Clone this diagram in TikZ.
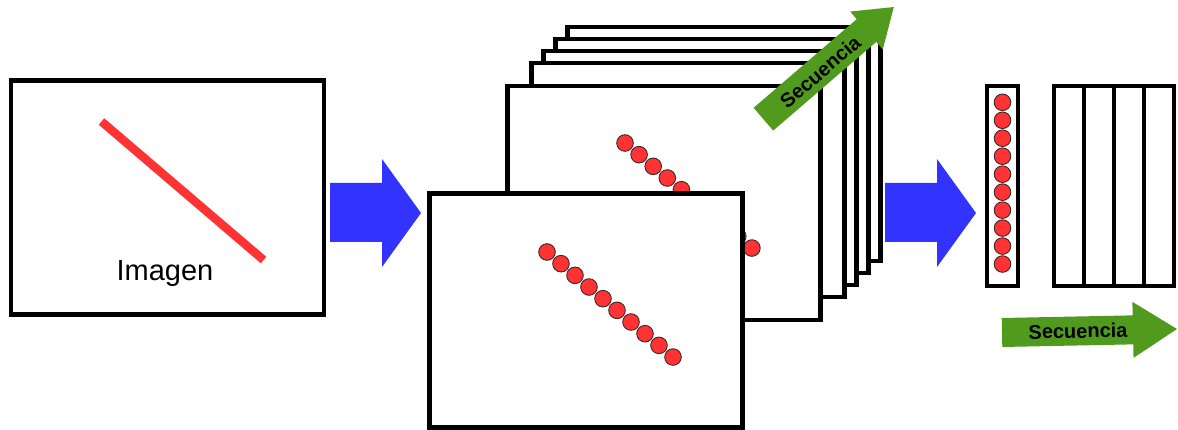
\documentclass[tikz,border=0pt]{standalone}
\usepackage{fontspec}
\setmainfont{Liberation Sans}
\definecolor{rojo}{RGB}{255,51,51}
\definecolor{azul}{RGB}{51,51,255}
\definecolor{verde}{RGB}{80,155,30}
\definecolor{borde}{RGB}{60,40,40}
\begin{document}
\begin{tikzpicture}[x=1pt,y=-1pt,
  frame/.style={draw=black,fill=white,line width=4.5pt,inner sep=0pt,outer sep=0pt,
    minimum width=313pt,minimum height=234pt},
  dot/.style={draw=borde,fill=rojo,line width=0.9pt},
  bluearrow/.style={fill=azul},
  greenarrow/.style={fill=verde},
  seqtext/.style={font=\bfseries\fontsize{20}{20}\selectfont,text=black,inner sep=0pt}]
\useasboundingbox (0,0) rectangle (1178,430);

% left image
\node[frame] (img) at (167.5,197.5) {};
\draw[rojo,line width=8.5pt] (101.5,121.5) -- (263.5,260);
\node[anchor=base,font=\fontsize{29}{29}\selectfont,inner sep=0pt] (imglabel) at (165,281) {Imagen};

% blue arrow 1
\fill[bluearrow] (330,183) -- (382,183) -- (382,159) -- (421,213) -- (382,267) -- (382,242) -- (330,242) -- cycle;

% stacked frames
\node[frame] (f5) at (724,144) {};
\node[frame] (f4) at (712,156) {};
\node[frame] (f3) at (700,168) {};
\node[frame] (f2) at (688,180) {};
\node[frame] (f1) at (664,203) {};
\foreach \i in {0,...,9}
  \draw[dot] ({625+14.1*\i},{143+11.67*\i}) circle[radius=8.3pt];
\node[frame] (f0) at (586,310.5) {};
\foreach \i in {0,...,9}
  \draw[dot] ({547+14*\i},{252+11.67*\i}) circle[radius=8.3pt];

% green arrow on stack
\begin{scope}[shift={(763.4,119.2)},rotate=40.7]
  \fill[greenarrow] (0,-15) -- (136,-15) -- (136,-25) -- (172,0) -- (136,25) -- (136,15) -- (0,15) -- cycle;
  \node[seqtext,rotate=40.7] (seq1) at (74,1) {Secuencia};
\end{scope}

% blue arrow 2
\fill[bluearrow] (885,183) -- (937,183) -- (937,159) -- (976,213) -- (937,267) -- (937,242) -- (885,242) -- cycle;

% column vector
\node[draw=black,fill=white,line width=4.5pt,inner sep=0pt,minimum width=31pt,minimum height=200pt] (col) at (1002.5,186) {};
\foreach \i in {0,...,9}
  \draw[dot] (1002.5,{102.3+17.97*\i}) circle[radius=8.3pt];

% sequence box
\node[draw=black,fill=white,line width=4.5pt,inner sep=0pt,minimum width=120pt,minimum height=200pt] (seqbox) at (1114,186) {};
\foreach \x in {1084,1114,1144}
  \draw[line width=4.5pt] (\x,86) -- (\x,286);

% green arrow bottom
\begin{scope}[shift={(1002,332.5)},rotate=1.15]
  \fill[greenarrow] (0,-14.5) -- (131,-14.5) -- (131,-28) -- (175,0) -- (131,28) -- (131,14.5) -- (0,14.5) -- cycle;
  \node[seqtext,rotate=1.15] (seq2) at (76,0) {Secuencia};
\end{scope}
\end{tikzpicture}
\end{document}
